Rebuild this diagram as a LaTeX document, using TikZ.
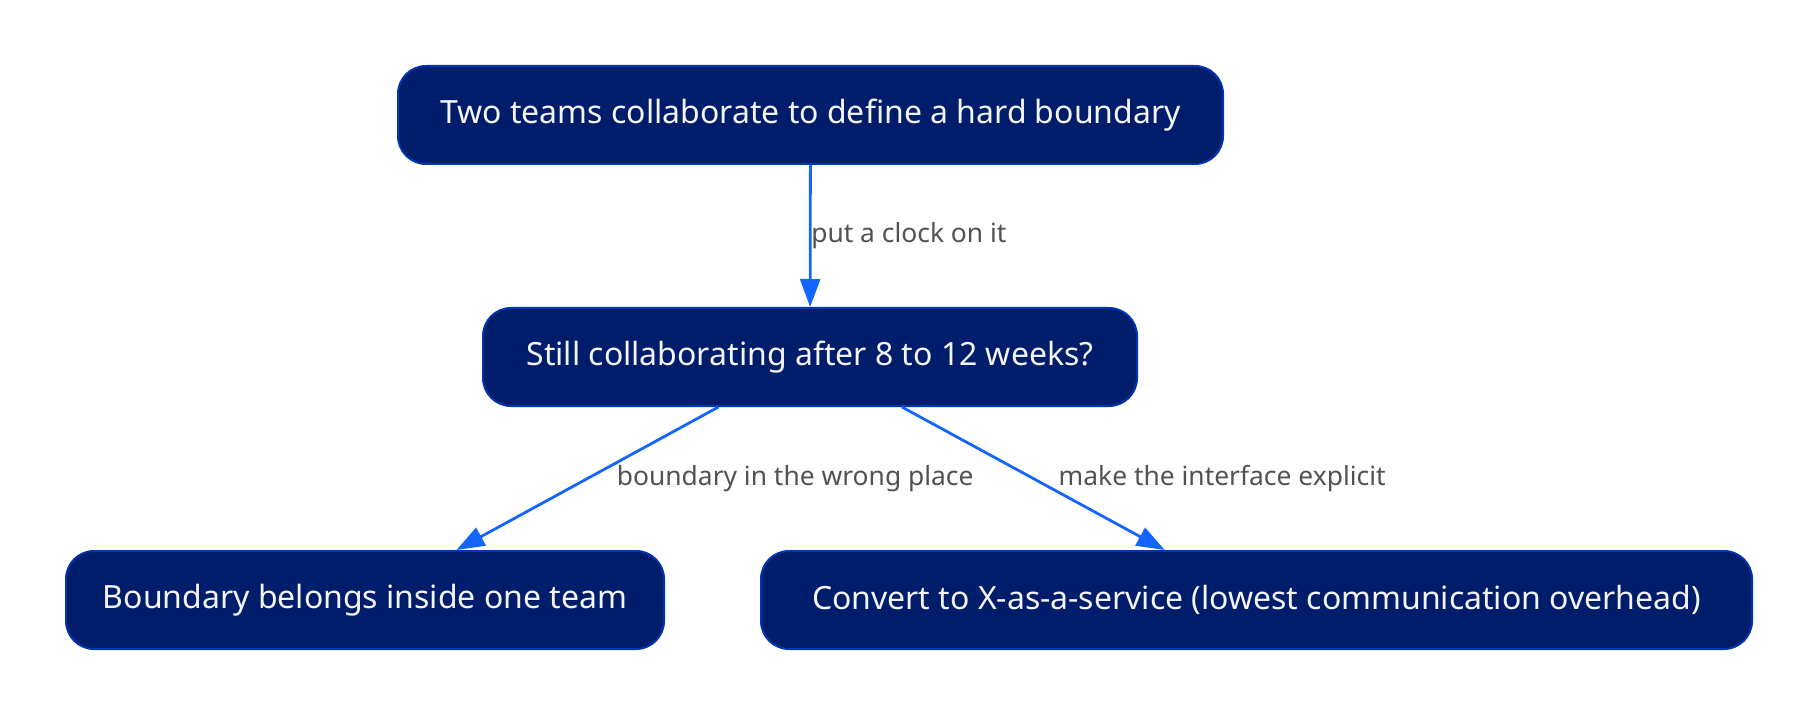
\documentclass[tikz,border=0pt]{standalone}
\usepackage{fontspec}
\setmainfont{Noto Sans}
\usetikzlibrary{arrows.meta}
\definecolor{boxfill}{HTML}{001D6C}
\definecolor{boxline}{HTML}{0035B0}
\definecolor{edgeblue}{HTML}{1464FF}
\definecolor{labelgray}{HTML}{525252}
\definecolor{boxtext}{HTML}{F4F4F4}
\begin{document}
\begin{tikzpicture}[x=0.5pt,y=-0.5pt,
  stepbox/.style={rectangle, rounded corners=14pt, draw=boxline, line width=1pt,
    fill=boxfill, text=boxtext, inner sep=0pt, minimum height=49pt,
    font=\fontsize{16}{19}\selectfont},
  flow/.style={draw=edgeblue, line width=1.4pt,
    -{Triangle[length=14pt,width=10pt]}},
  edgelabel/.style={text=labelgray, inner sep=1pt, anchor=west,
    font=\fontsize{13.2}{15}\selectfont}]
  \useasboundingbox (0,0) rectangle (1818,716);
  \node[stepbox, minimum width=412.5pt] (top) at (810.5,115) {Two teams collaborate to define a hard boundary};
  \node[stepbox, minimum width=327pt] (mid) at (810,357) {Still collaborating after 8 to 12 weeks?};
  \node[stepbox, minimum width=299pt] (bl) at (365,600) {Boundary belongs inside one team};
  \node[stepbox, minimum width=495.5pt] (br) at (1256.5,600) {Convert to X-as-a-service (lowest communication overhead)};
  \draw[flow] (top) -- node[edgelabel, pos=0.5, xshift=-1.2pt] {put a clock on it} (mid);
  \draw[flow] (mid) -- node[edgelabel, pos=0.5, xshift=13pt] {boundary in the wrong place} (bl);
  \draw[flow] (mid) -- node[edgelabel, pos=0.5, xshift=11pt] {make the interface explicit} (br);
\end{tikzpicture}
\end{document}
